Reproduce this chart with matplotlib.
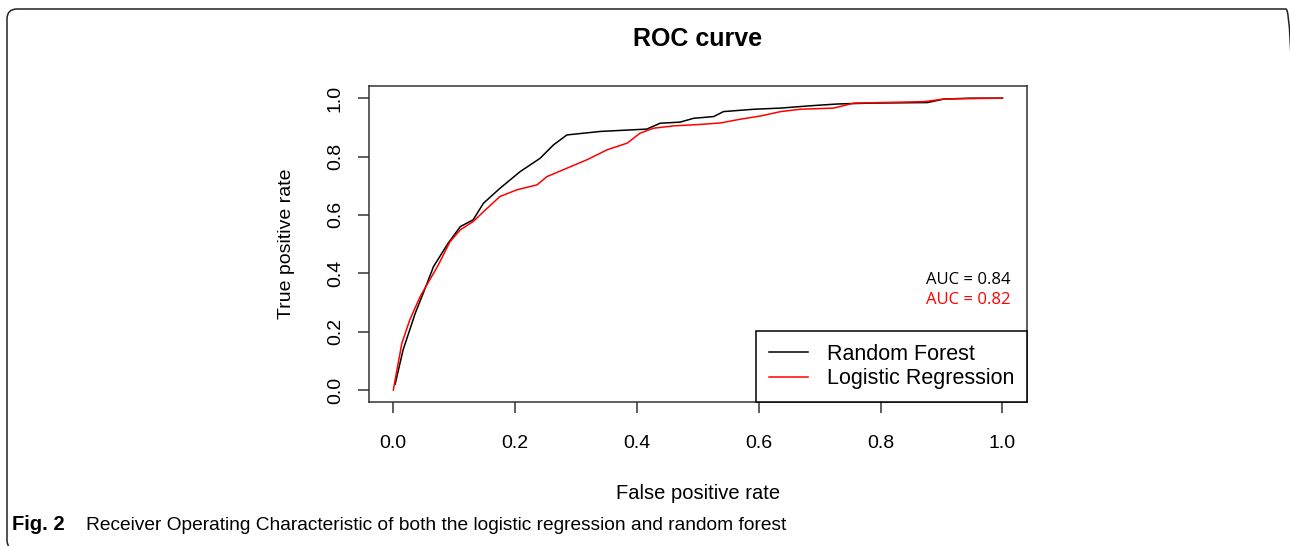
import matplotlib.pyplot as plt
from matplotlib.patches import FancyBboxPatch
from matplotlib.transforms import IdentityTransform

# ROC points
rf_fpr = [0.003, 0.016, 0.036, 0.049, 0.066, 0.090, 0.110, 0.131, 0.148, 0.175,
          0.208, 0.241, 0.263, 0.285, 0.340, 0.416, 0.438, 0.471, 0.493, 0.526,
          0.542, 0.592, 0.636, 0.685, 0.729, 0.783, 0.877, 0.904, 0.948, 1.0]
rf_tpr = [0.020, 0.137, 0.263, 0.331, 0.423, 0.503, 0.560, 0.583, 0.640, 0.691,
          0.748, 0.794, 0.840, 0.874, 0.886, 0.894, 0.914, 0.918, 0.931, 0.937,
          0.954, 0.962, 0.966, 0.974, 0.980, 0.983, 0.985, 0.997, 1.0, 1.0]

lr_fpr = [0.0, 0.014, 0.027, 0.044, 0.058, 0.074, 0.093, 0.110, 0.131, 0.148,
          0.175, 0.203, 0.236, 0.252, 0.285, 0.318, 0.351, 0.384, 0.405, 0.427,
          0.460, 0.504, 0.537, 0.570, 0.603, 0.636, 0.668, 0.723, 0.756, 0.871,
          0.904, 1.0]
lr_tpr = [0.0, 0.160, 0.240, 0.320, 0.371, 0.429, 0.508, 0.549, 0.577, 0.611,
          0.663, 0.686, 0.703, 0.731, 0.760, 0.789, 0.823, 0.846, 0.880, 0.897,
          0.905, 0.910, 0.915, 0.928, 0.939, 0.954, 0.962, 0.966, 0.983, 0.988,
          0.997, 1.0]

auc_rf = 0.84
auc_lr = 0.82
ticks = [0.0, 0.2, 0.4, 0.6, 0.8, 1.0]

plt.rcParams['font.family'] = ['Liberation Sans', 'DejaVu Sans']

fig = plt.figure(figsize=(12.9, 5.46), dpi=100)
ax = fig.add_axes([0.286, 0.2643, 0.510, 0.5773])

ax.plot(rf_fpr, rf_tpr, color='black', linewidth=1.1, label='Random Forest')
ax.plot(lr_fpr, lr_tpr, color='#ff0000', linewidth=1.1, label='Logistic Regression')

ax.set_xlim(-0.04, 1.04)
ax.set_ylim(-0.04, 1.04)
ax.set_xticks(ticks)
ax.set_yticks(ticks)
ax.set_xticklabels([f'{t:.1f}' for t in ticks], fontsize=14)
ax.set_yticklabels([f'{t:.1f}' for t in ticks], fontsize=14,
                   rotation=90, va='center')
ax.tick_params(direction='out', length=8, width=1.1, color='#333333')
ax.tick_params(axis='x', pad=16)
ax.tick_params(axis='y', pad=10)
for s in ax.spines.values():
    s.set_linewidth(1.1)
    s.set_color('#333333')

ax.set_title('ROC curve', fontsize=18, fontweight='bold', pad=29.5)
ax.set_xlabel('False positive rate', fontsize=14.5)
ax.set_ylabel('True positive rate', fontsize=14)
ax.xaxis.set_label_coords(0.5, -0.262)
ax.yaxis.set_label_coords(-0.113, 0.5)

ax.text(1.013, 0.377, f'AUC = {auc_rf}', color='black', fontsize=12,
        family='Open Sans', ha='right', va='center')
ax.text(1.013, 0.309, f'AUC = {auc_lr}', color='#ff0000', fontsize=12,
        family='Open Sans', ha='right', va='center')

leg = ax.legend(loc='lower right', borderaxespad=0, fancybox=False,
                fontsize=15.5, handlelength=1.8, handletextpad=0.9,
                borderpad=0.58, labelspacing=0.15, framealpha=1)
leg.get_frame().set_edgecolor('black')
leg.get_frame().set_linewidth(1.1)

# rounded frame round the whole panel, in pixels (origin bottom left)
box = FancyBboxPatch((7, -4), 1289, 541,
                     boxstyle='round,pad=0,rounding_size=10',
                     transform=IdentityTransform(), fill=False,
                     edgecolor='#222222', linewidth=1.1)
fig.patches.append(box)

fig.text(12 / 1290, 1 - 525 / 546, 'Fig. 2', fontsize=14.5,
         fontweight='bold', va='center', ha='left')
fig.text(86 / 1290, 1 - 525 / 546,
         'Receiver Operating Characteristic of both the logistic regression and random forest',
         fontsize=13.8, va='center', ha='left')

fig.savefig('out.png', dpi=100)
